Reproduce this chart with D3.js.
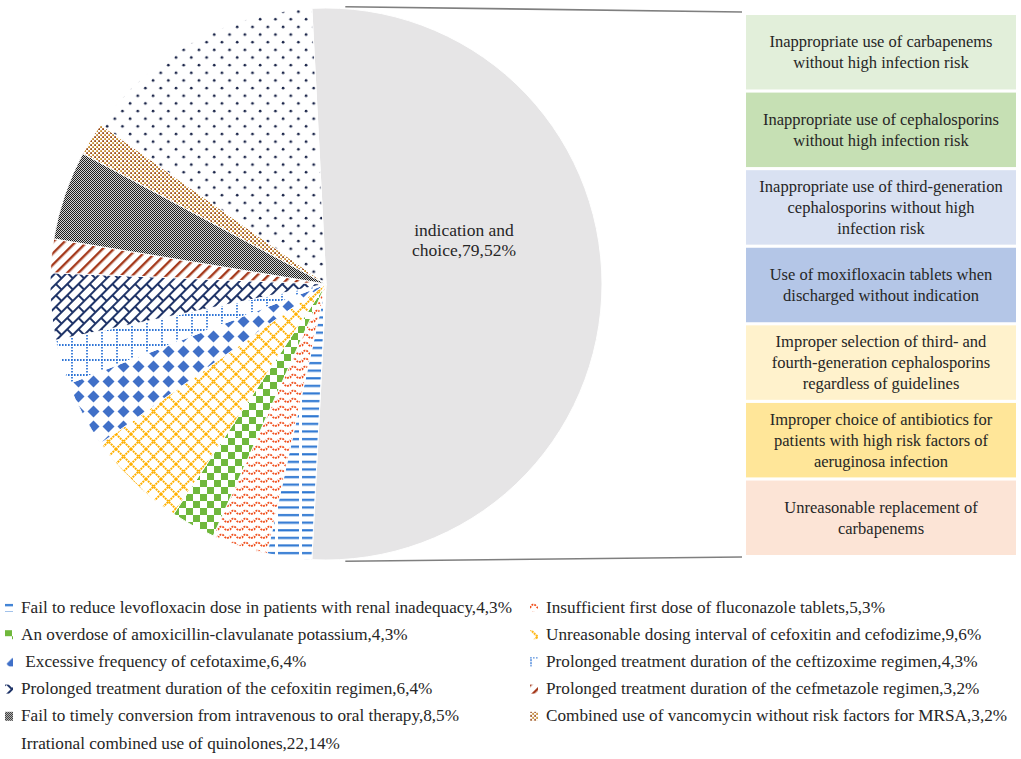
<!DOCTYPE html>
<html>
<head>
<meta charset="utf-8">
<script src="https://cdn.jsdelivr.net/npm/d3@7"></script>
<style>
  html, body { margin: 0; padding: 0; background: #fff; }
  svg { display: block; }
</style>
</head>
<body>
<svg id="chart" width="1021" height="759" font-family="'Liberation Serif', 'DejaVu Serif', serif"></svg>
<script>
// ---------- data ----------
const mainCategory = "indication and choice";
const mainCount = 79;
const mainPercent = 52;

const categories = [
  "Fail to reduce levofloxacin dose in patients with renal inadequacy",
  "Insufficient first dose of fluconazole tablets",
  "An overdose of amoxicillin-clavulanate potassium",
  "Unreasonable dosing interval of cefoxitin and cefodizime",
  " Excessive frequency of cefotaxime",
  "Prolonged treatment duration of the ceftizoxime regimen",
  "Prolonged treatment duration of the cefoxitin regimen",
  "Prolonged treatment duration of the cefmetazole regimen",
  "Fail to timely conversion from intravenous to oral therapy",
  "Combined use of vancomycin without risk factors for MRSA",
  "Irrational combined use of quinolones"
];
const counts   = [4, 5, 4, 9, 6, 4, 6, 3, 8, 3, 22];
const percents = [3, 3, 3, 6, 4, 3, 4, 2, 5, 2, 14];

const subCategories = [
  "Inappropriate use of carbapenems|without high infection risk",
  "Inappropriate use of cephalosporins|without high infection risk",
  "Inappropriate use of third-generation|cephalosporins without high|infection risk",
  "Use of moxifloxacin tablets when|discharged without indication",
  "Improper selection of third- and|fourth-generation cephalosporins|regardless of guidelines",
  "Improper choice of antibiotics for|patients with high risk factors of|aeruginosa infection",
  "Unreasonable replacement of|carbapenems"
];
const subColors = ["#E2EFDA", "#C6E0B4", "#D9E1F2", "#B4C6E7", "#FFF2CC", "#FFE699", "#FCE4D6"];

// ---------- setup ----------
const svg = d3.select("#chart");
const defs = svg.append("defs");
const TXT = "#262626";

function pat(id, w, h, rot) {
  const p = defs.append("pattern").attr("id", id)
    .attr("patternUnits", "userSpaceOnUse").attr("width", w).attr("height", h);
  if (rot) p.attr("patternTransform", `rotate(${rot})`).attr("data-rot", rot);
  return p;
}
// 0 levofloxacin: dashed horizontal blue
pat("p0", 24, 7.6).append("rect").attr("x", 0).attr("y", 2).attr("width", 21).attr("height", 2.2).attr("fill", "#2F78D2");
// 1 fluconazole: wave
pat("p1", 12, 8).append("path").attr("d", "M0,6 Q3,0 6,4 T12,4").attr("fill", "none")
  .attr("stroke", "#F04E1B").attr("stroke-width", 1.8).attr("stroke-dasharray", "2 1");
// 2 amoxicillin: large checker
{ const p = pat("p2", 14, 14);
  p.append("rect").attr("x", 0).attr("y", 0).attr("width", 7).attr("height", 7).attr("fill", "#70B83C");
  p.append("rect").attr("x", 7).attr("y", 7).attr("width", 7).attr("height", 7).attr("fill", "#70B83C"); }
// 3 cefoxitin & cefodizime: trellis
pat("p3", 15, 15).append("path").attr("d", "M0,0 L15,15 M15,0 L0,15").attr("stroke", "#FFB000")
  .attr("stroke-width", 2).attr("stroke-dasharray", "2 0.8").attr("fill", "none");
// 4 cefotaxime: diamonds
pat("p4", 15, 15).append("polygon").attr("points", "7.5,1.5 13.5,7.5 7.5,13.5 1.5,7.5").attr("fill", "#4070C8");
// 5 ceftizoxime: dotted grid
pat("p5", 15, 15).append("path").attr("d", "M0,1 H15 M1,0 V15").attr("stroke", "#2F75D6")
  .attr("stroke-width", 1.8).attr("stroke-dasharray", "1.6 1.4").attr("fill", "none");
// 6 cefoxitin regimen: diagonal brick
pat("p6", 16, 16, -45).append("path").attr("d", "M0,1 H16 M0,9 H16 M1,0 V9 M9,9 V16")
  .attr("stroke", "#1F3468").attr("stroke-width", 2).attr("fill", "none");
// 7 cefmetazole: wide upward diagonal
pat("p7", 8, 8, 45).append("rect").attr("x", 0).attr("y", 0).attr("width", 2.4).attr("height", 8).attr("fill", "#A53A1C");
// 8 iv->oral: small checker
{ const p = pat("p8", 2, 2);
  p.append("rect").attr("width", 2).attr("height", 2).attr("fill", "#d4d4d4");
  p.append("rect").attr("x", 0).attr("y", 0).attr("width", 1).attr("height", 1).attr("fill", "#1e1e1e").attr("shape-rendering", "crispEdges");
  p.append("rect").attr("x", 1).attr("y", 1).attr("width", 1).attr("height", 1).attr("fill", "#1e1e1e").attr("shape-rendering", "crispEdges"); }
// 9 vancomycin: dense dots
{ const p = pat("p9", 4, 4);
  p.append("rect").attr("x", 0.2).attr("y", 0.2).attr("width", 1.8).attr("height", 1.8).attr("fill", "#9A4A14");
  p.append("rect").attr("x", 2.2).attr("y", 2.2).attr("width", 1.8).attr("height", 1.8).attr("fill", "#C68A2A"); }
// 10 quinolones: sparse dots
{ const p = pat("p10", 15.3, 15.3);
  p.append("circle").attr("cx", 3).attr("cy", 3).attr("r", 1.35).attr("fill", "#1A2448");
  p.append("circle").attr("cx", 10.65).attr("cy", 10.65).attr("r", 1.35).attr("fill", "#1A2448"); }

const fills = categories.map((d, i) => `url(#p${i})`);

// ---------- pie ----------
const cx = 326, cy = 284, r = 276;
const total = mainCount + d3.sum(counts);
const mainSpan = mainCount / total * 2 * Math.PI;
const start = Math.PI / 2 - mainSpan / 2;

const pieData = [{ name: mainCategory, value: mainCount, fill: "#E6E5E6" }]
  .concat(categories.map((c, i) => ({ name: c, value: counts[i], fill: fills[i] })));

const pie = d3.pie().sort(null).value(d => d.value).startAngle(start).endAngle(start + 2 * Math.PI);
const arcs = pie(pieData);
const arc = d3.arc().innerRadius(0).outerRadius(r);

const g = svg.append("g").attr("transform", `translate(${cx},${cy})`);

// connector lines
const barX = 746, barTop = 15, barBottom = 555, barW = 270;
const topPt = [cx + r * Math.sin(0.07), cy - r * Math.cos(0.07)];
const botPt = [cx + r * Math.sin(Math.PI - 0.07), cy - r * Math.cos(Math.PI - 0.07)];
svg.append("line").attr("x1", topPt[0]).attr("y1", topPt[1] - 2).attr("x2", barX - 4).attr("y2", barTop - 3)
  .attr("stroke", "#7f7f7f").attr("stroke-width", 1.6);
svg.append("line").attr("x1", botPt[0]).attr("y1", botPt[1] + 2).attr("x2", barX - 4).attr("y2", barBottom + 2)
  .attr("stroke", "#7f7f7f").attr("stroke-width", 1.6);

g.selectAll("path.slice").data(arcs).join("path")
  .attr("class", "slice")
  .attr("d", arc)
  .attr("fill", d => d.data.fill)
  .attr("stroke", "#fff").attr("stroke-width", 1);

// main label
const c = arc.centroid(arcs[0]);
const lbl = g.append("text").attr("text-anchor", "middle").attr("font-size", 17.5).attr("fill", TXT)
  .attr("transform", `translate(${c[0]},${c[1] - 48})`);
lbl.append("tspan").attr("x", 0).attr("dy", 0).text("indication and");
lbl.append("tspan").attr("x", 0).attr("dy", 19.5).text(`choice,${mainCount},${mainPercent}%`);

// ---------- bar of sub-categories ----------
const yb = d3.scaleBand().domain(d3.range(subCategories.length)).range([barTop, barBottom]).paddingInner(0.04);
const bars = svg.append("g").selectAll("g").data(subCategories).join("g");
bars.append("rect")
  .attr("x", barX).attr("y", (d, i) => yb(i))
  .attr("width", barW).attr("height", yb.bandwidth())
  .attr("fill", (d, i) => subColors[i]);
bars.each(function (d, i) {
  const lines = d.split("|");
  const lh = 21;
  const yc = yb(i) + yb.bandwidth() / 2;
  const t = d3.select(this).append("text").attr("text-anchor", "middle").attr("font-size", 16.5).attr("fill", TXT);
  lines.forEach((ln, k) => {
    t.append("tspan").attr("x", barX + barW / 2)
      .attr("y", yc + (k - (lines.length - 1) / 2) * lh + 5.5).text(ln);
  });
});

// ---------- legend ----------
const rowH = 27.2, legTop = 607;
const legend = svg.append("g");
categories.forEach((name, i) => {
  const last = i === categories.length - 1;
  const col = last ? 0 : i % 2;
  const row = Math.floor(i / 2);
  const x0 = col === 0 ? 5 : 530;
  const y0 = legTop + row * rowH;
  const lg = legend.append("g");
  if (!last) {
    const src = defs.select(`#p${i}`);
    const clone = src.node().cloneNode(true);
    clone.setAttribute("id", `lp${i}`);
    const rot = src.attr("data-rot");
    clone.setAttribute("patternTransform", `translate(${x0},${y0 - 5})` + (rot ? ` rotate(${rot})` : ""));
    defs.node().appendChild(clone);
    lg.append("rect").attr("x", x0).attr("y", y0 - 4).attr("width", 8).attr("height", 9).attr("fill", `url(#lp${i})`);
  }
  lg.append("text").attr("x", x0 + 16).attr("y", y0 + 5.5).attr("font-size", 17.2).attr("fill", TXT)
    .attr("xml:space", "preserve").style("white-space", "pre")
    .text(`${name},${counts[i]},${percents[i]}%`);
});
</script>
</body>
</html>
